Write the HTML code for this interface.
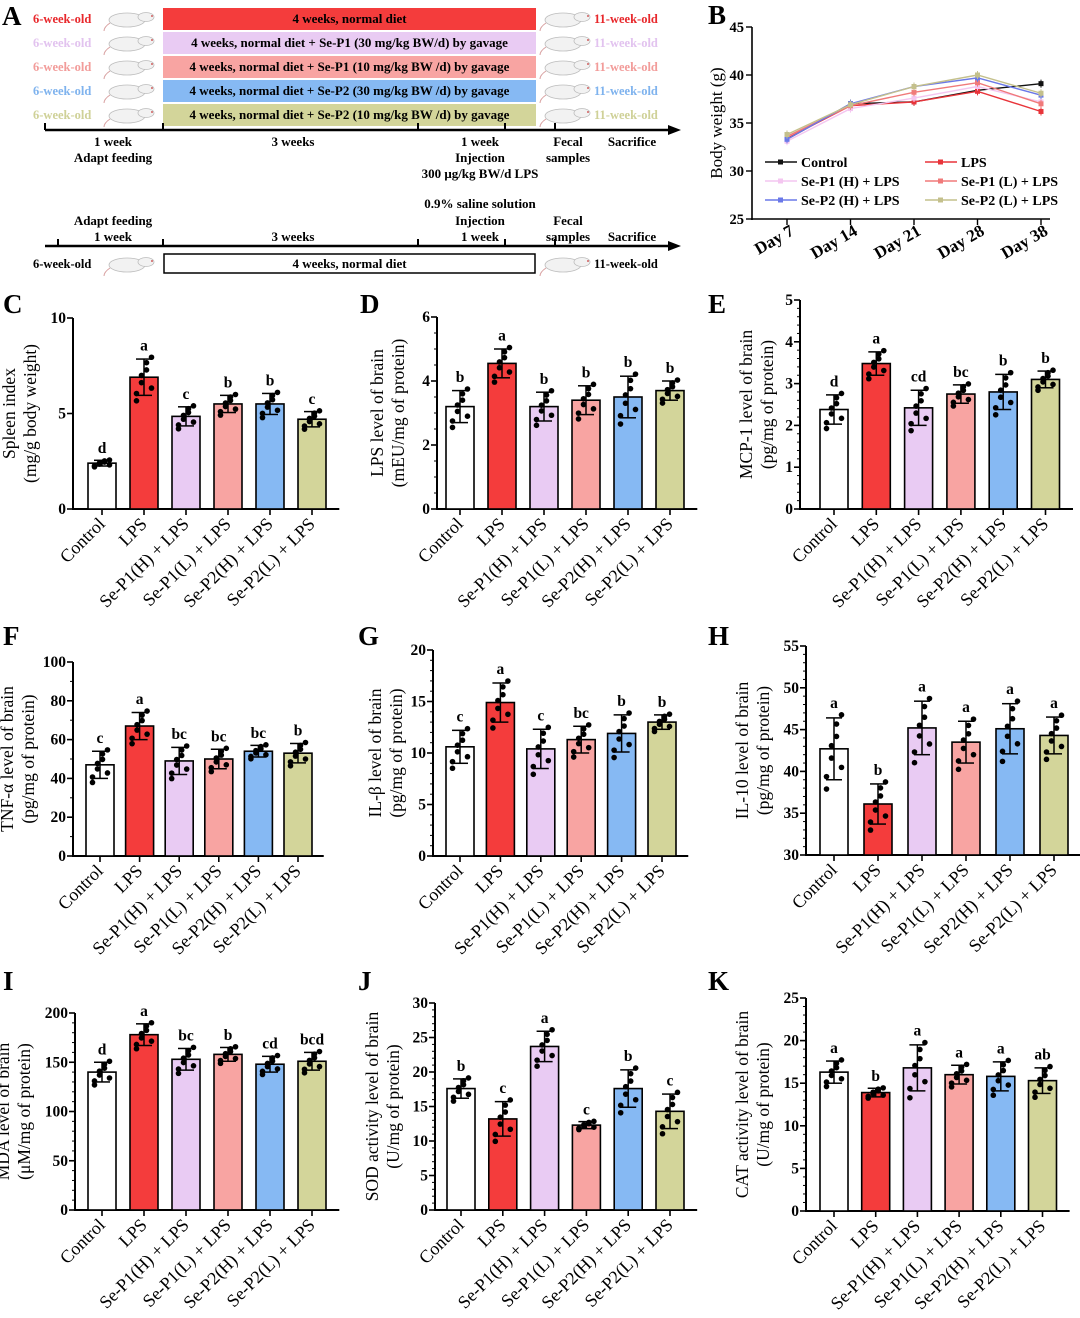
<!DOCTYPE html>
<html><head><meta charset="utf-8">
<style>
body{margin:0;background:#fff;}
svg{display:block;font-family:"Liberation Serif",serif;}
</style></head>
<body>
<svg id="fig" width="1080" height="1318" viewBox="0 0 1080 1318" xmlns="http://www.w3.org/2000/svg">
<g id="panelA"></g>
<g id="panelB"></g>
<g id="bars"></g>
</svg>
<script>
const NS="http://www.w3.org/2000/svg";
function mk(parent,tag,attrs,text){const e=document.createElementNS(NS,tag);for(const k in attrs)e.setAttribute(k,attrs[k]);if(text!==undefined)e.textContent=text;parent.appendChild(e);return e;}

// ---------- Panel A ----------
const A=document.getElementById('panelA');
const rowTexts=["4 weeks, normal diet","4 weeks, normal diet + Se-P1 (30 mg/kg BW/d) by gavage","4 weeks, normal diet + Se-P1 (10 mg/kg BW /d) by gavage","4 weeks, normal diet + Se-P2 (30 mg/kg BW /d) by gavage","4 weeks, normal diet + Se-P2 (10 mg/kg BW /d) by gavage"];
const rowFill=["#f43c3c","#e9cbf3","#f8a4a2","#86b9f3","#d3d59a"];
const rowLabel=["#e8282c","#e2c3ef","#f29c9a","#7fb3ee","#cfd198"];
function rat(g,x,y){
  const r=mk(g,'g',{});
  
  
  mk(r,'ellipse',{cx:x+22,cy:y+2,rx:18,ry:7,fill:'#f2f2f2',stroke:'#bcbcbc','stroke-width':0.8});
  mk(r,'ellipse',{cx:x+41,cy:y-1,rx:8,ry:4.5,fill:'#f2f2f2',stroke:'#bcbcbc','stroke-width':0.8});
  mk(r,'path',{d:`M${x+5} ${y+5} q-6 4 -6 8`,stroke:'#d8a0a0',fill:'none','stroke-width':1});
  mk(r,'circle',{cx:x+47,cy:y-2,r:1,fill:'#d06060'});
}
mk(A,'text',{x:2,y:25,'font-size':27,'font-weight':'bold'},'A');
for(let i=0;i<5;i++){
  const y=8+i*24;
  mk(A,'text',{x:33,y:y+15,'font-size':12.5,'font-weight':'bold',fill:rowLabel[i]},'6-week-old');
  rat(A,105,y+10);
  const b=mk(A,'rect',{x:163,y:y,width:373,height:22,fill:rowFill[i]});
  
  
  mk(A,'text',{x:349.5,y:y+15,'font-size':13,'font-weight':'bold','text-anchor':'middle'},rowTexts[i]);
  rat(A,541,y+10);
  mk(A,'text',{x:594,y:y+15,'font-size':12.5,'font-weight':'bold',fill:rowLabel[i]},'11-week-old');
}
function timeline(y,ticks){
  mk(A,'line',{x1:45,y1:y,x2:672,y2:y,stroke:'#000','stroke-width':2.5});
  mk(A,'path',{d:`M668 ${y-5} L681 ${y} L668 ${y+5}Z`,fill:'#000'});
  ticks.forEach(t=>mk(A,'line',{x1:t,y1:y-7,x2:t,y2:y,stroke:'#000','stroke-width':2}));
}
timeline(130,[45,163,418,505,555]);
const tl1=[[113,146,"1 week"],[113,162,"Adapt feeding"],[293,146,"3 weeks"],[480,146,"1 week"],[480,162,"Injection"],[480,178,"300 μg/kg BW/d LPS"],[568,146,"Fecal"],[568,162,"samples"],[632,146,"Sacrifice"]];
tl1.forEach(t=>mk(A,'text',{x:t[0],y:t[1],'font-size':13,'font-weight':'bold','text-anchor':'middle'},t[2]));
timeline(246,[58,163,418,505,555]);
const tl2=[[113,225,"Adapt feeding"],[113,241,"1 week"],[293,241,"3 weeks"],[480,208,"0.9% saline solution"],[480,225,"Injection"],[480,241,"1 week"],[568,225,"Fecal"],[568,241,"samples"],[632,241,"Sacrifice"]];
tl2.forEach(t=>mk(A,'text',{x:t[0],y:t[1],'font-size':13,'font-weight':'bold','text-anchor':'middle'},t[2]));
mk(A,'text',{x:33,y:268,'font-size':12.5,'font-weight':'bold'},'6-week-old');
rat(A,105,263);
const cb=mk(A,'rect',{x:164,y:254,width:371,height:19,fill:'#fff',stroke:'#000','stroke-width':1.5});


mk(A,'text',{x:349.5,y:268,'font-size':13,'font-weight':'bold','text-anchor':'middle'},'4 weeks, normal diet');
rat(A,541,263);
mk(A,'text',{x:594,y:268,'font-size':12.5,'font-weight':'bold'},'11-week-old');

// ---------- Panel B ----------
const days=["Day 7","Day 14","Day 21","Day 28","Day 38"];
const bwControl=[33.3,37.0,37.2,38.4,39.1];
const bwLPS=[33.4,36.8,37.2,38.3,36.2];
const bwP1H=[33.1,36.5,37.6,38.8,37.2];
const bwP1L=[33.6,36.8,38.2,39.2,37.0];
const bwP2H=[33.3,37.0,38.8,39.7,37.9];
const bwP2L=[33.8,36.9,38.8,40.0,38.1];
const bTicks=[25,30,35,40,45];
const B=document.getElementById('panelB');
mk(B,'text',{x:708,y:24,'font-size':27,'font-weight':'bold'},'B');
const bx=i=>787+i*63.5, by=v=>219-(v-25)*(192/20);
mk(B,'line',{x1:752,y1:by(45),x2:752,y2:220,stroke:'#000','stroke-width':1.6});
mk(B,'line',{x1:751,y1:219,x2:1050,y2:219,stroke:'#000','stroke-width':1.6});
bTicks.forEach(t=>{mk(B,'line',{x1:746,y1:by(t),x2:752,y2:by(t),stroke:'#000','stroke-width':1.4});mk(B,'text',{x:744,y:by(t)+5,'font-size':14.5,'font-weight':'bold','text-anchor':'end'},t);});
days.forEach((d,i)=>{mk(B,'line',{x1:bx(i),y1:219,x2:bx(i),y2:225,stroke:'#000','stroke-width':1.4});mk(B,'text',{x:bx(i)+8,y:234,'font-size':17,'font-weight':'bold','text-anchor':'end',transform:`rotate(-30 ${bx(i)+8} 234)`},d);});
mk(B,'text',{x:0,y:0,'font-size':17,'text-anchor':'middle',transform:'translate(722 123) rotate(-90)'},'Body weight (g)');
const series=[[bwControl,'#111','Control'],[bwLPS,'#e8343a','LPS'],[bwP1H,'#f4c6f0','Se-P1 (H) + LPS'],[bwP1L,'#f07a7a','Se-P1 (L) + LPS'],[bwP2H,'#6a78e8','Se-P2 (H) + LPS'],[bwP2L,'#c4c08c','Se-P2 (L) + LPS']];
series.forEach((s,k)=>{
  const pts=s[0].map((v,i)=>bx(i)+','+by(v)).join(' ');
  const pl=mk(B,'polyline',{points:pts,fill:'none',stroke:s[1],'stroke-width':1.4});
  
  
  s[0].forEach((v,i)=>{mk(B,'line',{x1:bx(i),y1:by(v)-4,x2:bx(i),y2:by(v)+4,stroke:s[1],'stroke-width':1});mk(B,'rect',{x:bx(i)-2.5,y:by(v)-2.5,width:5,height:5,fill:s[1]});});
  const lx=k%2?925:765, ly=162+Math.floor(k/2)*19;
  const le=mk(B,'g',{});
  
  
  mk(le,'line',{x1:lx,y1:ly,x2:lx+32,y2:ly,stroke:s[1],'stroke-width':1.6});
  mk(le,'rect',{x:lx+13,y:ly-2.5,width:5,height:5,fill:s[1]});
  mk(le,'text',{x:lx+36,y:ly+5,'font-size':14,'font-weight':'bold'},s[2]);
});

// ---------- Bar panels ----------
const cats=["Control","LPS","Se-P1(H) + LPS","Se-P1(L) + LPS","Se-P2(H) + LPS","Se-P2(L) + LPS"];
const barFill=["#ffffff","#f43c3c","#e9cbf3","#f8a4a2","#86b9f3","#d3d59a"];
const dotPattern=[-0.9,-0.3,0.4,1.1,-1.3,0.1,0.8,-0.6];
const cVals=[2.4,6.9,4.85,5.5,5.5,4.7], cErr=[0.15,0.95,0.5,0.45,0.55,0.4], cLet=["d","a","c","b","b","c"];
const dVals=[3.2,4.55,3.2,3.4,3.5,3.7], dErr=[0.5,0.45,0.45,0.45,0.65,0.3], dLet=["b","a","b","b","b","b"];
const eVals=[2.38,3.48,2.42,2.75,2.8,3.1], eErr=[0.35,0.28,0.42,0.22,0.42,0.2], eLet=["d","a","cd","bc","b","b"];
const fVals=[47,67,49,50,54,53], fErr=[7,7,7,5,3,5], fLet=["c","a","bc","bc","bc","b"];
const gVals=[10.6,14.9,10.4,11.3,11.9,13.0], gErr=[1.6,1.9,1.9,1.3,1.8,0.7], gLet=["c","a","c","bc","b","b"];
const hVals=[42.7,36.1,45.2,43.5,45.1,44.3], hErr=[3.7,2.4,3.2,2.5,3.0,2.2], hLet=["a","b","a","a","a","a"];
const iVals=[140,178,153,158,148,151], iErr=[10,11,11,7,8,9], iLet=["d","a","bc","b","cd","bcd"];
const jVals=[17.6,13.2,23.7,12.3,17.6,14.3], jErr=[1.4,2.5,2.2,0.5,2.7,2.5], jLet=["b","c","a","c","b","c"];
const kVals=[16.3,13.9,16.8,16.0,15.8,15.3], kErr=[1.3,0.5,2.7,1.1,1.7,1.5], kLet=["a","b","a","a","a","ab"];
const cTicks=[0,5,10], dTicks=[0,2,4,6], eTicks=[0,1,2,3,4,5], fTicks=[0,20,40,60,80,100], gTicks=[0,5,10,15,20], hTicks=[30,35,40,45,50,55], iTicks=[0,50,100,150,200], jTicks=[0,5,10,15,20,25,30], kTicks=[0,5,10,15,20,25];

const G=document.getElementById('bars');
function barPanel(o){
  const g=mk(G,'g',{});
  
  
  const mn=o.ticks[0], mx=o.ticks[o.ticks.length-1];
  const y=v=>o.y0-(v-mn)*(o.y0-o.yT)/(mx-mn);
  const x=i=>o.x0+i*o.step;
  mk(g,'text',{x:o.lx,y:o.ly,'font-size':27,'font-weight':'bold'},o.letter);
  mk(g,'line',{x1:o.ax,y1:o.yT,x2:o.ax,y2:o.y0+1,stroke:'#000','stroke-width':2});
  mk(g,'line',{x1:o.ax-1,y1:o.y0,x2:x(5)+o.step*0.65,y2:o.y0,stroke:'#000','stroke-width':2});
  if(o.minor){const st=(o.ticks[1]-o.ticks[0])/o.minor;for(let v=mn;v<=mx+1e-9;v+=st)mk(g,'line',{x1:o.ax-3,y1:y(v),x2:o.ax,y2:y(v),stroke:'#000','stroke-width':1});}
  o.ticks.forEach(t=>{mk(g,'line',{x1:o.ax-6,y1:y(t),x2:o.ax,y2:y(t),stroke:'#000','stroke-width':1.6});mk(g,'text',{x:o.ax-7,y:y(t)+5,'font-size':15.5,'font-weight':'bold','text-anchor':'end'},t);});
  mk(g,'text',{'font-size':17.5,'text-anchor':'middle',transform:`translate(${o.ax-o.tOff} ${(o.y0+o.yT)/2}) rotate(-90)`},o.t1);
  mk(g,'text',{'font-size':17.5,'text-anchor':'middle',transform:`translate(${o.ax-o.tOff+21} ${(o.y0+o.yT)/2}) rotate(-90)`},o.t2);
  o.vals.forEach((v,i)=>{
    const cx=x(i), w=28;
    const r=mk(g,'rect',{x:cx-w/2,y:y(v),width:w,height:o.y0-y(v),fill:barFill[i],stroke:'#000','stroke-width':1.6});
    
    
    const e=o.err[i];
    mk(g,'line',{x1:cx,y1:y(v+e),x2:cx,y2:y(v-e),stroke:'#000','stroke-width':1.5});
    mk(g,'line',{x1:cx-8,y1:y(v+e),x2:cx+8,y2:y(v+e),stroke:'#000','stroke-width':1.5});
    mk(g,'line',{x1:cx-8,y1:y(v-e),x2:cx+8,y2:y(v-e),stroke:'#000','stroke-width':1.5});
    let top=y(v+e);
    dotPattern.forEach((p,k)=>{const dv=v+p*e;const dy=y(dv);top=Math.min(top,dy);mk(g,'circle',{cx:cx+((k%4)-1.5)*5,cy:dy,r:2.8,fill:'#000'});});
    mk(g,'text',{x:cx,y:top-7,'font-size':15.5,'font-weight':'bold','text-anchor':'middle'},o.lets[i]);
    mk(g,'line',{x1:cx,y1:o.y0,x2:cx,y2:o.y0+6,stroke:'#000','stroke-width':1.6});
    mk(g,'text',{x:cx+4,y:o.y0+16,'font-size':18,'text-anchor':'end',transform:`rotate(-45 ${cx+4} ${o.y0+16})`},cats[i]);
  });
}
barPanel({name:'panel-c-spleen-index',letter:'C',lx:3,ly:313,ax:73,yT:318,y0:509,x0:102,step:42,ticks:cTicks,vals:cVals,err:cErr,lets:cLet,t1:'Spleen index',t2:'(mg/g body weight)',tOff:58});
barPanel({name:'panel-d-lps',letter:'D',lx:360,ly:313,ax:437,yT:317,y0:509,x0:460,step:42,ticks:dTicks,vals:dVals,err:dErr,lets:dLet,t1:'LPS level of brain',t2:'(mEU/mg of protein)',tOff:54,minor:4});
barPanel({name:'panel-e-mcp1',letter:'E',lx:708,ly:313,ax:800,yT:300,y0:509,x0:834,step:42.3,ticks:eTicks,vals:eVals,err:eErr,lets:eLet,t1:'MCP-1 level of brain',t2:'(pg/mg of protein)',tOff:48,minor:5});
barPanel({name:'panel-f-tnf',letter:'F',lx:3,ly:645,ax:73,yT:662,y0:856,x0:100,step:39.6,ticks:fTicks,vals:fVals,err:fErr,lets:fLet,t1:'TNF-α level of brain',t2:'(pg/mg of protein)',tOff:60,minor:2});
barPanel({name:'panel-g-il1b',letter:'G',lx:358,ly:645,ax:433,yT:650,y0:856,x0:460,step:40.4,ticks:gTicks,vals:gVals,err:gErr,lets:gLet,t1:'IL-β level of brain',t2:'(pg/mg of protein)',tOff:52,minor:5});
barPanel({name:'panel-h-il10',letter:'H',lx:708,ly:645,ax:806,yT:646,y0:855,x0:834,step:44,ticks:hTicks,vals:hVals,err:hErr,lets:hLet,t1:'IL-10 level of brain',t2:'(pg/mg of protein)',tOff:58,minor:5});
barPanel({name:'panel-i-mda',letter:'I',lx:3,ly:990,ax:75,yT:1013,y0:1210,x0:102,step:42,ticks:iTicks,vals:iVals,err:iErr,lets:iLet,t1:'MDA level of brain',t2:'(μM/mg of protein)',tOff:66,minor:5});
barPanel({name:'panel-j-sod',letter:'J',lx:358,ly:990,ax:435,yT:1003,y0:1210,x0:461,step:41.8,ticks:jTicks,vals:jVals,err:jErr,lets:jLet,t1:'SOD activity level of brain',t2:'(U/mg of protein)',tOff:57,minor:5});
barPanel({name:'panel-k-cat',letter:'K',lx:708,ly:990,ax:806,yT:998,y0:1211,x0:834,step:41.7,ticks:kTicks,vals:kVals,err:kErr,lets:kLet,t1:'CAT activity level of brain',t2:'(U/mg of protein)',tOff:58,minor:5});
</script>
</body></html>
